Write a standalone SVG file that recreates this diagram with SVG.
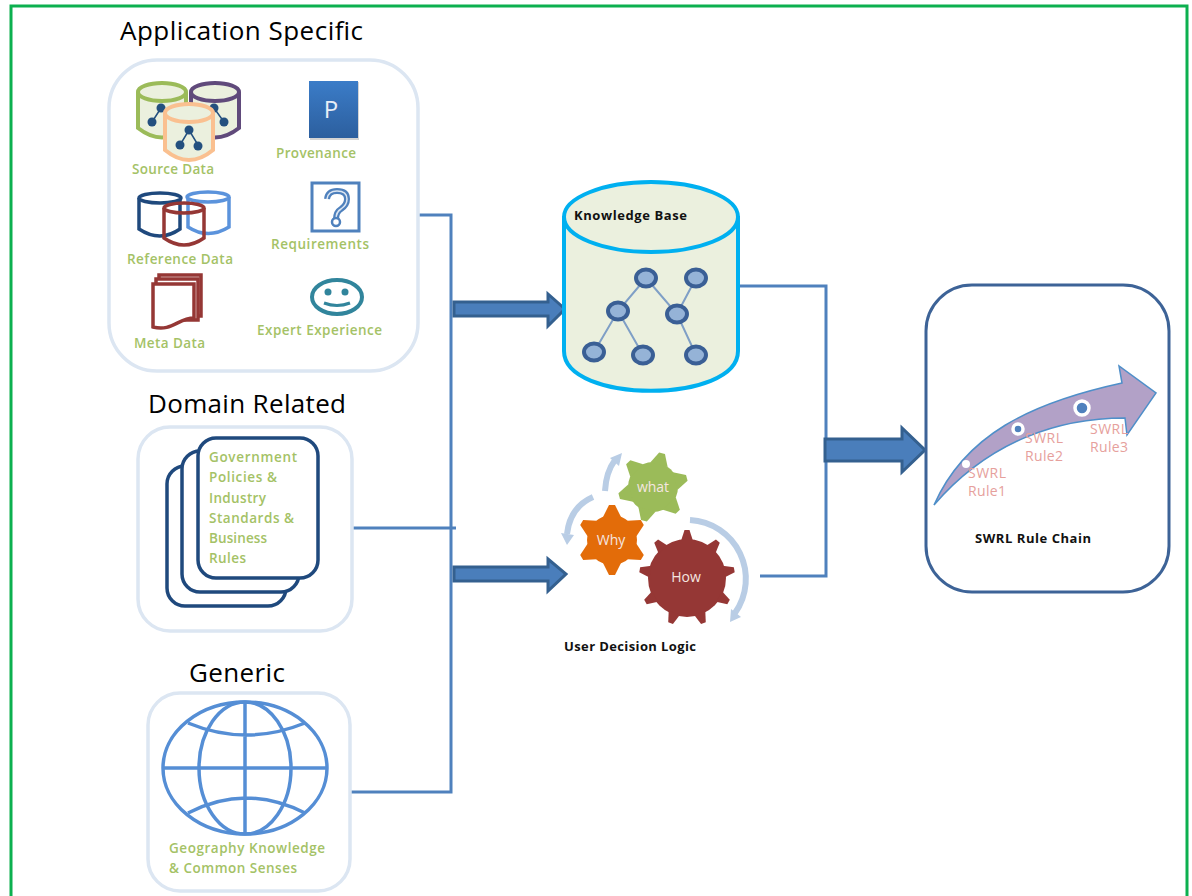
<svg xmlns="http://www.w3.org/2000/svg" width="1192" height="896" viewBox="0 0 1192 896">
<style>
.t{font-family:"Open Sans","Noto Sans",sans-serif}
.h{font-size:26px;fill:#000}
.g{font-size:13.5px;font-weight:600;fill:#a4c266}
.b{font-size:13px;font-weight:700;fill:#111}
.w{font-size:14px;fill:#f5e6e0;text-anchor:middle}
.r{font-size:14px;fill:#e6a09c}
.box{fill:#fff;stroke:#dce6f2;stroke-width:3.5}
.c{fill:none;stroke:#4f81bd;stroke-width:3}
.fa{fill:#4a7ebb;stroke:#34608f;stroke-width:3}
.kn{fill:#95b3d7;stroke:#3a5f95;stroke-width:4}
.kl{stroke:#7f9fc6;stroke-width:2;fill:none}
.sn{fill:#24507f}
.sl{stroke:#24507f;stroke-width:1.5;fill:none}
</style>
<defs>
<linearGradient id="pg" x1="0" y1="0" x2="0" y2="1"><stop offset="0" stop-color="#3b7cc8"/><stop offset="1" stop-color="#2c5f9e"/></linearGradient>
<path id="t6" d="M-9 -23L-3 -35H3L9 -23Z"/>
<path id="t9" d="M-6 -37L-2.5 -48H2.5L6 -37Z"/>
</defs>
<rect width="1192" height="896" fill="#fff"/>
<path d="M11 896V6H1187V896" fill="none" stroke="#0cb04f" stroke-width="3"/>
<g id="connectors">
<path class="c" d="M417 215H451V792H351M352 528H456"/>
<path class="c" d="M738 286H826V576H760"/>
<path class="fa" d="M454 302H548V294L565 309L548 326V316H454Z"/>
<path class="fa" d="M454 567H548V559L566 574L548 591V581H454Z"/>
<path class="fa" d="M825 439H902V428L925 450L902 472V461H825Z"/>
</g>
<g id="application-specific">
<text class="t h" x="120" y="40" textLength="243">Application Specific</text>
<rect class="box" x="109" y="60" width="309" height="311" rx="48"/>
<g fill="#ebf0de" stroke-width="4">
<g stroke="#9bbb59"><path d="M138 92V128Q162 147 186 128V92"/><ellipse cx="162" cy="92" rx="24" ry="9"/></g>
<g stroke="#604a7b"><path d="M191 92V128Q215 147 239 128V92"/><ellipse cx="215" cy="92" rx="24" ry="9"/></g>
</g>
<path class="sl" d="M161 108L152 122M214 108L224 122"/>
<circle class="sn" cx="161" cy="108" r="4.5"/><circle class="sn" cx="152" cy="122" r="4.5"/><circle class="sn" cx="214" cy="108" r="4.5"/><circle class="sn" cx="224" cy="122" r="4.5"/>
<g fill="#ebf0de" stroke="#fac090" stroke-width="4"><path d="M165 113V150Q189 170 213 150V113"/><ellipse cx="189" cy="113" rx="24" ry="9"/></g>
<path class="sl" d="M180 145L189 130L198 145"/>
<circle class="sn" cx="189" cy="130" r="4.5"/><circle class="sn" cx="180" cy="145" r="4.5"/><circle class="sn" cx="198" cy="146" r="4.5"/>
<text class="t g" x="132" y="174" textLength="82">Source Data</text>
<rect x="310" y="82" width="49" height="58" fill="#aaa" opacity="0.5"/>
<rect x="309" y="81" width="49" height="57" fill="url(#pg)"/>
<text class="t" x="331" y="118" font-size="24" fill="#e8eef7" text-anchor="middle">P</text>
<text class="t g" x="276" y="158" textLength="80">Provenance</text>
<g fill="#fff" stroke-width="3.5">
<path stroke="#1f497d" d="M139 198V229Q160 243 180 229V198"/><ellipse stroke="#1f497d" cx="160" cy="198" rx="21" ry="5"/>
<path stroke="#5b93dc" d="M188 197V227Q208 240 229 227V197"/><ellipse stroke="#5b93dc" cx="208" cy="197" rx="21" ry="5"/>
<path fill="none" stroke="#953735" d="M164 208V238Q184 252 204 238V208"/><ellipse fill="none" stroke="#953735" cx="184" cy="208" rx="20" ry="5"/>
</g>
<text class="t g" x="127" y="264" textLength="106">Reference Data</text>
<rect x="312" y="183" width="47" height="48" fill="#fff" stroke="#4f81bd" stroke-width="3"/>
<path d="M327 199Q328 191 337 191Q347 191 347 199Q347 205 341 209Q336 212 336 219" fill="none" stroke="#4f81bd" stroke-width="6"/>
<path d="M327 199Q328 191 337 191Q347 191 347 199Q347 205 341 209Q336 212 336 219" fill="none" stroke="#dce6f2" stroke-width="1.5"/>
<circle cx="336" cy="222" r="4" fill="#fff" stroke="#4f81bd" stroke-width="2.5"/>
<text class="t g" x="271" y="249" textLength="98">Requirements</text>
<g fill="#fff" stroke="#953735" stroke-width="3.5">
<path d="M159 275H201V316H159Z"/><path d="M156 279H198V320H156Z"/>
<path d="M153 284H194V318C178 318 172 332 153 327Z"/>
</g>
<text class="t g" x="134" y="348" textLength="71">Meta Data</text>
<ellipse cx="337" cy="297" rx="25" ry="17" fill="#fff" stroke="#31859c" stroke-width="4"/>
<circle cx="328" cy="292" r="3.5" fill="#31859c"/><circle cx="345" cy="292" r="3.5" fill="#31859c"/>
<path d="M324 303Q337 308 350 303" fill="none" stroke="#31859c" stroke-width="3"/>
<text class="t g" x="257" y="335" textLength="125">Expert Experience</text>
</g>
<g id="domain-related">
<text class="t h" x="148" y="413" textLength="198">Domain Related</text>
<rect class="box" x="138" y="427" width="214" height="204" rx="32"/>
<g fill="#fff" stroke="#1f497d" stroke-width="3.5">
<rect x="167" y="466" width="119" height="140" rx="18"/>
<rect x="182" y="451" width="117" height="141" rx="18"/>
<rect x="198" y="438" width="120" height="140" rx="18"/>
</g>
<g class="t g"><text x="209" y="462" textLength="88">Government</text><text x="209" y="482" textLength="68">Policies &amp;</text><text x="209" y="503" textLength="57">Industry</text><text x="209" y="523" textLength="85">Standards &amp;</text><text x="209" y="543" textLength="58">Business</text><text x="209" y="563" textLength="37">Rules</text></g>
</g>
<g id="generic">
<text class="t h" x="189" y="682" textLength="96">Generic</text>
<rect class="box" x="148" y="693" width="202" height="198" rx="32"/>
<g fill="none" stroke="#558ed5" stroke-width="3.5">
<ellipse cx="245" cy="768" rx="82" ry="66"/>
<ellipse cx="245" cy="768" rx="46" ry="66"/>
<path d="M245 702V834M163 768H327M188 723Q246 747 305 723M188 813Q246 783 305 813"/>
</g>
<text class="t g" x="169" y="853" textLength="156">Geography Knowledge</text>
<text class="t g" x="169" y="873" textLength="128">&amp; Common Senses</text>
</g>
<g id="knowledge-base">
<path d="M564 218V351C564 404 738 404 738 351V218Z" fill="#ebf0de" stroke="#00b0f0" stroke-width="4"/>
<ellipse cx="651" cy="217" rx="87" ry="35" fill="#ebf0de" stroke="#00b0f0" stroke-width="4"/>
<text class="t b" x="574" y="220" textLength="113">Knowledge Base</text>
<path class="kl" d="M646 278L618 311L594 352M618 311L643 355M646 278L677 314L696 355M696 278L677 314"/>
<ellipse class="kn" cx="646" cy="278" rx="10" ry="8.5"/><ellipse class="kn" cx="696" cy="278" rx="10" ry="8.5"/>
<ellipse class="kn" cx="618" cy="311" rx="10" ry="8.5"/><ellipse class="kn" cx="677" cy="314" rx="10" ry="8.5"/>
<ellipse class="kn" cx="594" cy="352" rx="10" ry="8.5"/><ellipse class="kn" cx="643" cy="355" rx="10" ry="8.5"/><ellipse class="kn" cx="696" cy="355" rx="10" ry="8.5"/>
</g>
<g id="user-decision-logic">
<g fill="none" stroke="#b9cde5" stroke-width="6">
<path d="M605 491Q606 472 615 460"/><path d="M593 497Q570 507 567 534"/><path d="M690 520A59 59 0 0 1 735 613"/>
</g>
<path d="M622 453L619 466L610 458ZM561 533L574 535L567 545ZM731 609L741 617L730 622Z" fill="#b9cde5"/>
<g fill="#9bbb59" transform="translate(653 487)"><circle r="25"/>
<use href="#t6" transform="rotate(15)"/><use href="#t6" transform="rotate(75)"/><use href="#t6" transform="rotate(135)"/><use href="#t6" transform="rotate(195)"/><use href="#t6" transform="rotate(255)"/><use href="#t6" transform="rotate(315)"/></g>
<text class="t w" x="653" y="492">what</text>
<g fill="#e36c09" transform="translate(612 540)"><circle r="25"/>
<use href="#t6"/><use href="#t6" transform="rotate(60)"/><use href="#t6" transform="rotate(120)"/><use href="#t6" transform="rotate(180)"/><use href="#t6" transform="rotate(240)"/><use href="#t6" transform="rotate(300)"/></g>
<text class="t w" x="611" y="545">Why</text>
<g fill="#953735" transform="translate(687 578)"><circle r="39"/>
<use href="#t9"/><use href="#t9" transform="rotate(40)"/><use href="#t9" transform="rotate(80)"/><use href="#t9" transform="rotate(120)"/><use href="#t9" transform="rotate(160)"/><use href="#t9" transform="rotate(200)"/><use href="#t9" transform="rotate(240)"/><use href="#t9" transform="rotate(280)"/><use href="#t9" transform="rotate(320)"/></g>
<text class="t w" x="686" y="582">How</text>
<text class="t b" x="564" y="651" textLength="132">User Decision Logic</text>
</g>
<g id="swrl-rule-chain">
<rect x="926" y="285" width="243" height="307" rx="46" fill="#fff" stroke="#3d6397" stroke-width="3"/>
<path d="M934 505C965 435 1030 403 1122 383L1119 366L1156 393L1127 435L1125 418C1060 418 990 440 934 505Z" fill="#b2a1c7" stroke="#4f8fc9" stroke-width="1.5"/>
<circle cx="966" cy="464" r="4" fill="#fff"/>
<circle cx="1018" cy="429" r="5" fill="#4f81bd" stroke="#fff" stroke-width="3.5"/>
<circle cx="1082" cy="408" r="7" fill="#4f81bd" stroke="#fff" stroke-width="3.5"/>
<g class="t r"><text x="968" y="478" textLength="38">SWRL</text><text x="968" y="496" textLength="38">Rule1</text><text x="1025" y="443" textLength="38">SWRL</text><text x="1025" y="461" textLength="38">Rule2</text><text x="1090" y="434" textLength="38">SWRL</text><text x="1090" y="452" textLength="38">Rule3</text></g>
<text class="t b" x="975" y="543" textLength="116">SWRL Rule Chain</text>
</g>
</svg>
